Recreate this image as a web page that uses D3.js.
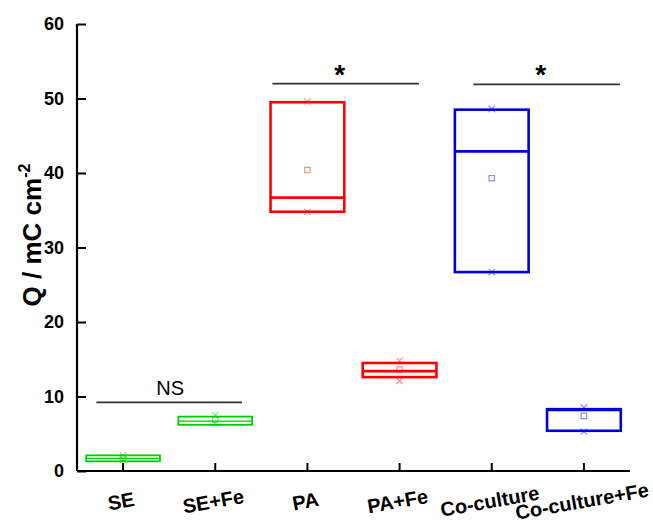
<!DOCTYPE html>
<html>
<head>
<meta charset="utf-8">
<script src="https://cdn.jsdelivr.net/npm/d3@7"></script>
<style>
  body { margin: 0; background: #fff; }
  text { font-family: "Liberation Sans", Arial, sans-serif; }
</style>
</head>
<body>
<div class="chart"></div>
<script>
// box data (3 replicates per group)
var groups = ["SE", "SE+Fe", "PA", "PA+Fe", "Co-culture", "Co-culture+Fe"];
var q1     = [1.3, 6.2, 34.8, 12.6, 26.7, 5.4];
var median = [1.7, 6.7, 36.7, 13.4, 42.9, 8.2];
var q3     = [2.1, 7.3, 49.5, 14.5, 48.5, 8.3];
var minV   = [1.5, 6.4, 34.8, 12.1, 26.7, 5.3];
var maxV   = [2.1, 7.5, 49.6, 14.8, 48.6, 8.5];
var meanV  = [1.8, 6.9, 40.4, 13.6, 39.3, 7.4];
var colors = ["#00cc00", "#00cc00", "#ff0000", "#ff0000", "#0000dd", "#0000dd"];

var yTicks = [0, 10, 20, 30, 40, 50, 60];

// significance brackets (x in group-index units)
var sigLabels = ["NS", "*", "*"];
var sigY      = [9.2, 52.0, 51.9];
var sigFrom   = [-0.29, 1.62, 3.80];
var sigTo     = [1.29, 3.21, 5.39];
var sigTextX  = [0.51, 2.35, 4.53];

var svgWidth = 653;
var svgHeight = 525;

var margin = { top: 24, right: 23, bottom: 54, left: 77 };
var width = svgWidth - margin.left - margin.right;
var height = svgHeight - margin.top - margin.bottom;

var svg = d3.select(".chart")
  .append("svg")
  .attr("width", svgWidth)
  .attr("height", svgHeight);

var chartGroup = svg.append("g")
  .attr("transform", `translate(${margin.left}, ${margin.top})`);

var data = groups.map(function (g, i) {
  return { name: g, q1: q1[i], med: median[i], q3: q3[i],
           min: minV[i], max: maxV[i], mean: meanV[i], color: colors[i] };
});

var xBand = d3.scaleBand()
  .domain(groups)
  .range([0, width])
  .paddingInner(0.2)
  .paddingOuter(0.1);

var xIdx = d3.scaleLinear()
  .domain([-0.5, groups.length - 0.5])
  .range([0, width]);

var yScale = d3.scaleLinear()
  .domain([0, 60])
  .range([height, 0]);

// axes with inward ticks
var bottomAxis = d3.axisTop(xBand).tickSize(8).tickFormat("");
var leftAxis = d3.axisRight(yScale).tickValues(yTicks).tickSize(9).tickFormat("");

var xAxisG = chartGroup.append("g")
  .attr("transform", `translate(0, ${height})`)
  .call(bottomAxis);
var yAxisG = chartGroup.append("g").call(leftAxis);

[xAxisG, yAxisG].forEach(function (g) {
  g.select(".domain").attr("stroke", "#000").attr("stroke-width", 2.2);
  g.selectAll(".tick line").attr("stroke", "#000").attr("stroke-width", 2);
});
xAxisG.select(".domain").attr("d", `M0,0H${width}`);
yAxisG.select(".domain").attr("d", `M0,0V${height}`);

// y tick labels
chartGroup.selectAll(".ylab")
  .data(yTicks)
  .enter()
  .append("text")
  .attr("class", "ylab")
  .attr("x", -13)
  .attr("y", d => yScale(d))
  .attr("dy", "0.36em")
  .attr("text-anchor", "end")
  .attr("font-size", 18)
  .attr("font-weight", "bold")
  .text(d => d);

// x tick labels, slightly tilted
chartGroup.selectAll(".xlab")
  .data(groups)
  .enter()
  .append("text")
  .attr("class", "xlab")
  .attr("transform", d => `translate(${xBand(d) + xBand.bandwidth() / 2 - 2}, ${height + 30}) rotate(-10)`)
  .attr("text-anchor", "middle")
  .attr("dy", "0.36em")
  .attr("font-size", 20)
  .attr("font-weight", "bold")
  .text(d => d);

// boxes
var boxes = chartGroup.selectAll(".box")
  .data(data)
  .enter()
  .append("g")
  .attr("class", "box");

boxes.append("rect")
  .attr("x", d => xBand(d.name))
  .attr("y", d => yScale(d.q3))
  .attr("width", xBand.bandwidth())
  .attr("height", d => yScale(d.q1) - yScale(d.q3))
  .attr("fill", "none")
  .attr("stroke", d => d.color)
  .attr("stroke-width", d => (d.q3 - d.q1 < 1.5 ? 1.8 : 2.6));

boxes.append("line")
  .attr("x1", d => xBand(d.name))
  .attr("x2", d => xBand(d.name) + xBand.bandwidth())
  .attr("y1", d => yScale(d.med))
  .attr("y2", d => yScale(d.med))
  .attr("stroke", d => d.color)
  .attr("stroke-width", d => (d.q3 - d.q1 < 1.5 ? 1.2 : 2.6));

var xMark = d3.symbol().type(d3.symbolX).size(28);
var sqMark = d3.symbol().type(d3.symbolSquare).size(30);

["min", "max"].forEach(function (k) {
  boxes.append("path")
    .attr("d", xMark)
    .attr("transform", d => `translate(${xBand(d.name) + xBand.bandwidth() / 2}, ${yScale(d[k])})`)
    .attr("fill", "none")
    .attr("stroke", d => d.color)
    .attr("stroke-opacity", 0.45)
    .attr("stroke-width", 1.2);
});

boxes.append("path")
  .attr("d", sqMark)
  .attr("transform", d => `translate(${xBand(d.name) + xBand.bandwidth() / 2}, ${yScale(d.mean)})`)
  .attr("fill", "none")
  .attr("stroke", d => d.color)
  .attr("stroke-opacity", 0.45)
  .attr("stroke-width", 1.2);

// significance lines
sigLabels.forEach(function (lab, i) {
  chartGroup.append("line")
    .attr("x1", xIdx(sigFrom[i]))
    .attr("x2", xIdx(sigTo[i]))
    .attr("y1", yScale(sigY[i]))
    .attr("y2", yScale(sigY[i]))
    .attr("stroke", "#333")
    .attr("stroke-width", 1.8);

  chartGroup.append("text")
    .attr("x", xIdx(sigTextX[i]))
    .attr("y", yScale(sigY[i]) - (lab === "NS" ? 7 : 0))
    .attr("text-anchor", "middle")
    .attr("font-size", lab === "NS" ? 20 : 28)
    .attr("font-weight", lab === "NS" ? "normal" : "bold")
    .text(lab);
});

// y axis title
var yTitle = svg.append("text")
  .attr("transform", "translate(41, 235) rotate(-90)")
  .attr("text-anchor", "middle")
  .attr("font-size", 26)
  .attr("font-weight", "bold");
yTitle.append("tspan").text("Q / mC cm");
yTitle.append("tspan")
  .attr("font-size", 16)
  .attr("dy", -11)
  .text("-2");
</script>
</body>
</html>
